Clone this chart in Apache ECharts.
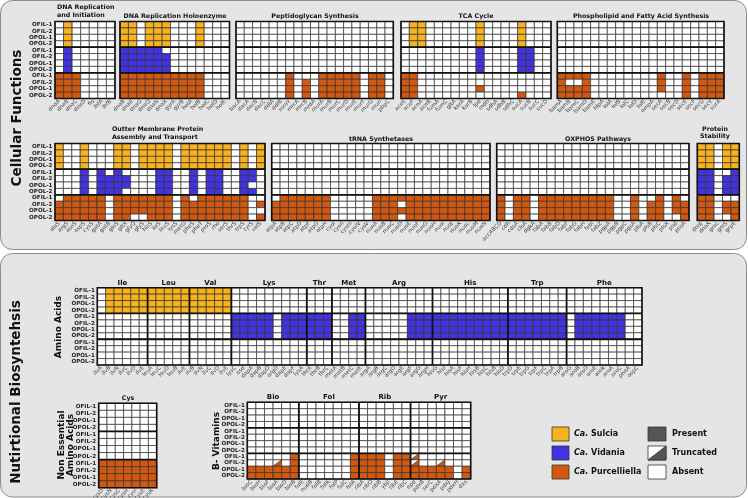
<!DOCTYPE html>
<html>
<head>
<meta charset="utf-8">
<script src="https://cdn.jsdelivr.net/npm/echarts@6.0.0/dist/echarts.min.js"></script>
<style>
html,body{margin:0;padding:0;background:#ffffff;}
#chart{width:748px;height:498px;}
</style>
</head>
<body>
<div id="chart"></div>
<script>
// ================= DATA =================
// rows: Sulcia x4, Vidania x4, Purcelliella x4 ; cell codes: 1 present, t truncated, 0 absent
const sampleRows = ['OFIL-1','OFIL-2','OPOL-1','OPOL-2','OFIL-1','OFIL-2','OPOL-1','OPOL-2','OFIL-1','OFIL-2','OPOL-1','OPOL-2'];
const organismNames = ['Sulcia','Vidania','Purcelliella'];
const statusNames = ['Present','Truncated','Absent'];

const dnaInitGenes = ['dnaA','dnaB','dnaC','dnaD','fis','ihfA','ihfB'];
const dnaInitCells = [
  '0100000','0100000','0100000','0100000',
  '0100000','0100000','0100000','0100000',
  '1110000','1110000','1110000','1110000'];

const holoGenes = ['dnaB','dnaE','dnaG','dnaQ','dnaN','dnaX','gyrA','gyrB','holA','holB','holC','holD','holE'];
const holoCells = [
  '1101110001000','1101110001000','1101110001000','1101110001000',
  '1111100000000','1111110000000','1111110000000','1111110000000',
  '1111111111000','1111111111000','1111111111000','1111111111000'];

const peptGenes = ['bacA','dacA','dacB','dacC','ddlA','ddlB','mraY','mrcA','mrcB','mrdA','murA','murB','murC','murD','murE','murF','murG','murI','pbpC'];
const peptCells = [
  '0000000000000000000','0000000000000000000','0000000000000000000','0000000000000000000',
  '0000000000000000000','0000000000000000000','0000000000000000000','0000000000000000000',
  '0000001000111110110','0000001010111110110','0000001010111110110','0000001010111110110'];

const tcaGenes = ['aceE','aceF','acnA','acnB','fumA','fumC','gltA','korA','korB','lpd','mdh','sdhA','sdhB','sdhC','sucA','sucB','sucC','sucD'];
const tcaCells = [
  '011000000100001000','011000000100001000','011000000100001000','011000000100001000',
  '000000000100001100','000000000100001100','000000000100001100','000000000100001100',
  '110000000000000000','110000000000000000','110000000100000000','110000000000001000'];

const phosGenes = ['bamA','bamB','bamC','bamD','bamE','hlpA','lolA','lolB','lolC','lolD','lolE','ompA','secA','secB','secD','secE','secF','secG','secY','surA'];
const phosCells = [
  '00000000000000000000','00000000000000000000','00000000000000000000','00000000000000000000',
  '00000000000000000000','00000000000000000000','00000000000000000000','00000000000000000000',
  '11110000000010010111','10010000000010010111','11110000000010010111','11110000000000010111'];

const outerGenes = ['alaS','argS','asnS','aspS','cysS','gatA','gatB','glnS','gltX','glyQ','glyS','hisS','ileS','leuS','lysS','metG','pheS','pheT','proS','rho','serS','thrS','trpS','tyrS','valS'];
const outerCells = [
  '1001000110111101111110101','1001000110111101111110101','1001000110111101111110101','1001000110111101111110101',
  '0001010100001100101100110','0001011110001100101100110','0001011110001100101100100','0001011100001100101100110',
  '0111110111111101011111100','1111110111111101111111101','1111110111111101111111100','1111110110011101111111101'];

const trnaGenes = ['atpA','atpB','atpC','atpD','atpF','atpG','atpH','cyoI','cyoII','cyoIII','cyoIV','cyoV','nuoA','nuoB','nuoC','nuoD','nuoE','nuoF','nuoG','nuoH','nuoI','nuoJ','nuoK','nuoL','nuoM','nuoN'];
const trnaCells = [
  '00000000000000000000000000','00000000000000000000000000','00000000000000000000000000','00000000000000000000000000',
  '00000000000000000000000000','00000000000000000000000000','00000000000000000000000000','00000000000000000000000000',
  '01111110000011111111111111','11111110000011101111111111','11111110000011111111111111','11111110000011101111111111'];

const oxGenes = ['accABCD','cdh','cdsA','clsA','dgkA','fabA','fabB','fabD','fabF','fabG','fabH','fabI','fabZ','pgpA','pgpB','pgpC','pgsA','plsA','plsB','plsC','plsX','psd','pssA'];
const oxCells = [
  '00000000000000000000000','00000000000000000000000','00000000000000000000000','00000000000000000000000',
  '00000000000000000000000','00000000000000000000000','00000000000000000000000','00000000000000000000000',
  '10110111111111001001010','10110111111111001011011','10110111111111001011011','10110111111111001011001'];

const stabGenes = ['dnaJ','dnaK','groL','groS','grpE'];
const stabCells = [
  '11011','11011','11011','11011',
  '11001','11011','11011','11011',
  '11000','11011','11011','11001'];

const aaGroupNames = ['Ile','Leu','Val','Lys','Thr','Met','Arg','His','Trp','Phe'];
const aaGroupGenes = [
  ['ilvA','ilvB','ilvN','ilvC','ilvD','ilvE'],
  ['leuA','leuC','leuD','leuB','ilvE'],
  ['ilvB','ilvN','ilvC','ilvD','ilvE'],
  ['lysC','asd','dapA','dapB','dapD','argD','dapE','dapF','lysA'],
  ['thrA','thrB','thrC'],
  ['metA','metB','metC','metE'],
  ['argA','argB','argC','argD','argE','argF','argG','argH'],
  ['hisG','hisI','hisA','hisF','hisH','hisB','hisC','hisB','hisD'],
  ['trpD','trpE','trpG','trpF','trpC','trpA','trpB'],
  ['aroG','aroB','aroD','aroE','aroK','aroA','aroC','pheA','aspC']];
const aaCells = [
  '011111|11111|11111|000000000|000|0000|00000000|000000000|0000000|000000000',
  '011111|11111|11111|000000000|000|0000|00000000|000000000|0000000|000000000',
  '011111|11111|11111|000000000|000|0000|00000000|000000000|0000000|000000000',
  '011111|11111|11111|000000000|000|0000|00000000|000000000|0000000|000000000',
  '000000|00000|00000|111110111|111|0011|00000111|111111111|1111111|011111100',
  '000000|00000|00000|111110111|111|0011|00000111|111111111|1111111|011111100',
  '000000|00000|00000|111110111|111|0011|00000111|111111111|1111111|011111100',
  '000000|00000|00000|111110111|111|0011|00000111|111111111|1111111|011111100',
  '000000|00000|00000|000000000|000|0000|00000000|000000000|0000000|000000000',
  '000000|00000|00000|000000000|000|0000|00000000|000000000|0000000|000000000',
  '000000|00000|00000|000000000|000|0000|00000000|000000000|0000000|000000000',
  '000000|00000|00000|000000000|000|0000|00000000|000000000|0000000|000000000'];

const cysGenes = ['cysD','cysN','cysC','cysH','cysI','cysE','cysK'];
const cysCells = [
  '0000000','0000000','0000000','0000000',
  '0000000','0000000','0000000','0000000',
  '1111111','1111111','1111111','1111111'];

const vitGroupNames = ['Bio','Fol','Rib','Pyr'];
const vitGroupGenes = [
  ['bioC','bioH','bioF','bioA','bioD','bioB'],
  ['folE','nudB','folB','folK','folP','folC','folA'],
  ['ribA','ribD','ribB','ybjI','ribE','ribC'],
  ['epd','pdxB','serC','pdxA','pdxJ','pdxH','dxs']];
const vitCells = [
  '000000|0000000|000000|0000000','000000|0000000|000000|0000000','000000|0000000|000000|0000000','000000|0000000|000000|0000000',
  '000000|0000000|000000|0000000','000000|0000000|000000|0000000','000000|0000000|000000|0000000','000000|0000000|000000|0000000',
  '000001|0000001|111011|t000000','000t01|0000001|111011|t00t000','111111|0000001|111011|1111101','111111|0000001|111011|1111101'];

// ================= STYLE / LAYOUT =================
const FONT = 'DejaVu Sans';
const orgColors = ['#F8B21E', '#4232E2', '#D2570F'];
const presentColor = '#555555';
const lineColor = '#333333';

const panels = [
  {genes: dnaInitGenes, cells: dnaInitCells, l: 55, t: 21.5, w: 60, h: 77, rowLabels: true},
  {genes: holoGenes, cells: holoCells, l: 120, t: 21.5, w: 109.5, h: 77},
  {genes: peptGenes, cells: peptCells, l: 236, t: 21.5, w: 157.3, h: 77},
  {genes: tcaGenes, cells: tcaCells, l: 401, t: 21.5, w: 150, h: 77},
  {genes: phosGenes, cells: phosCells, l: 557.3, t: 21.5, w: 166.7, h: 77},
  {genes: outerGenes, cells: outerCells, l: 55, t: 143.5, w: 210, h: 77, rowLabels: true},
  {genes: trnaGenes, cells: trnaCells, l: 271.7, t: 143.5, w: 218.3, h: 77},
  {genes: oxGenes, cells: oxCells, l: 496.7, t: 143.5, w: 192.3, h: 77},
  {genes: stabGenes, cells: stabCells, l: 697.3, t: 143.5, w: 42, h: 77},
  {genes: aaGroupGenes.flat(), groupNames: aaGroupNames, cells: aaCells, l: 97.3, t: 287.7, w: 544.7, h: 77.3, rowLabels: true},
  {genes: cysGenes, cells: cysCells, l: 98.7, t: 403.3, w: 58, h: 84.4, rowLabels: true},
  {genes: vitGroupGenes.flat(), groupNames: vitGroupNames, cells: vitCells, l: 247.3, t: 402.3, w: 223.4, h: 76.7, rowLabels: true}
];

const codeVal = {'0': 0, '1': 1, 't': 2};
panels.forEach(function (p, pi) {
  p.groupStarts = [];
  const segs = p.cells[0].split('|');
  let acc = 0;
  segs.forEach(function (s, i) { if (i > 0) p.groupStarts.push(acc); acc += s.length; });
  p.groupSizes = segs.map(function (s) { return s.length; });
  p.data = [];
  p.cells.forEach(function (row, r) {
    const clean = row.replace(/\|/g, '');
    if (clean.length !== p.genes.length) throw new Error('panel ' + pi + ' row ' + r + ' length ' + clean.length + ' != ' + p.genes.length);
    for (let c = 0; c < clean.length; c++) p.data.push([c, r, codeVal[clean[c]]]);
  });
});

function cellRender(params, api) {
  const c = api.value(0), r = api.value(1), v = api.value(2);
  const p = api.coord([c, r]);
  const s = api.size([1, 1]);
  const x = p[0] - s[0] / 2, y = p[1] - s[1] / 2, w = s[0], h = s[1];
  const col = orgColors[Math.floor(r / 4)];
  const children = [{
    type: 'rect', shape: {x: x, y: y, width: w, height: h},
    style: {fill: v === 1 ? col : '#ffffff', stroke: lineColor, lineWidth: 0.7}
  }];
  if (v === 2) {
    children.push({type: 'polygon', shape: {points: [[x, y + h], [x + w, y + h], [x + w, y]]},
      style: {fill: col, stroke: lineColor, lineWidth: 0.7}});
  }
  return {type: 'group', children: children};
}

function sepRenderFactory(p) {
  return function (params, api) {
    const p0 = api.coord([0, 0]);
    const s = api.size([1, 1]);
    const x0 = p0[0] - s[0] / 2, y0 = p0[1] - s[1] / 2;
    const W = s[0] * p.genes.length, H = s[1] * 12;
    const ch = [];
    [4, 8].forEach(function (r) {
      ch.push({type: 'line', shape: {x1: x0, y1: y0 + r * s[1], x2: x0 + W, y2: y0 + r * s[1]},
        style: {stroke: '#111', lineWidth: 1.8}});
    });
    p.groupStarts.forEach(function (c) {
      ch.push({type: 'line', shape: {x1: x0 + c * s[0], y1: y0, x2: x0 + c * s[0], y2: y0 + H},
        style: {stroke: '#111', lineWidth: 1.8}});
    });
    ch.push({type: 'rect', shape: {x: x0, y: y0, width: W, height: H},
      style: {fill: 'none', stroke: '#111', lineWidth: 1.6}});
    if (p.groupNames) {
      let acc = 0;
      p.groupNames.forEach(function (name, i) {
        const cx = x0 + (acc + p.groupSizes[i] / 2) * s[0];
        acc += p.groupSizes[i];
        ch.push({type: 'text', x: cx, y: y0 - 1.2,
          style: {text: name, font: 'bold 7px ' + FONT, fill: '#111',
            align: 'center', verticalAlign: 'bottom', textAlign: 'center', textVerticalAlign: 'bottom'}});
      });
    }
    return {type: 'group', children: ch};
  };
}

const grids = [], xAxes = [], yAxes = [], series = [];
panels.forEach(function (p, i) {
  grids.push({left: p.l, top: p.t, width: p.w, height: p.h, containLabel: false, outerBoundsMode: 'none', show: false});
  xAxes.push({type: 'category', gridIndex: i, data: p.genes,
    axisLine: {show: false}, axisTick: {show: false}, splitLine: {show: false},
    axisLabel: {interval: 0, rotate: 45, fontSize: 5.5, fontFamily: FONT, color: '#444', margin: 2, hideOverlap: false}});
  yAxes.push({type: 'category', gridIndex: i, data: sampleRows, inverse: true,
    axisLine: {show: false}, axisTick: {show: false}, splitLine: {show: false},
    axisLabel: {show: !!p.rowLabels, interval: 0, fontSize: 5.6, fontWeight: 'bold', fontFamily: FONT, color: '#222', margin: 2.5}});
  series.push({type: 'custom', xAxisIndex: i, yAxisIndex: i, encode: {x: 0, y: 1},
    renderItem: cellRender, data: p.data, silent: true, z: 2, animation: false});
  series.push({type: 'custom', xAxisIndex: i, yAxisIndex: i, encode: {x: 0, y: 1},
    renderItem: sepRenderFactory(p), data: [[0, 0]], silent: true, z: 3, animation: false});
});

function txt(x, y, text, size, opts) {
  opts = opts || {};
  return {type: 'text', x: x, y: y, rotation: opts.rot || 0, silent: true,
    style: {text: text, font: 'bold ' + size + 'px ' + FONT, fill: opts.fill || '#111',
      align: opts.align || 'center', verticalAlign: 'middle',
      textAlign: opts.align || 'center', textVerticalAlign: 'middle',
      lineHeight: opts.lh || size * 1.2, rich: opts.rich}};
}

const R90 = Math.PI / 2;
const graphics = [
  {type: 'rect', shape: {x: 0.5, y: 0.5, width: 746, height: 249, r: 12}, style: {fill: '#E5E5E5', stroke: '#8C8C8C', lineWidth: 1}, silent: true},
  {type: 'rect', shape: {x: 0.5, y: 253.5, width: 746, height: 243.5, r: 12}, style: {fill: '#E5E5E5', stroke: '#8C8C8C', lineWidth: 1}, silent: true},
  txt(17, 118, 'Cellular Functions', 13.5, {rot: R90}),
  txt(16, 392, 'Nutirtional Biosyntehsis', 13.5, {rot: R90}),
  txt(58.5, 327, 'Amino Acids', 9, {rot: R90}),
  txt(66, 445, 'Non Essential\nAmino Acids', 9, {rot: R90, lh: 8.8}),
  txt(217, 441, 'B- Vitamins', 9, {rot: R90}),
  txt(57, 11.5, 'DNA Replication\nand Initiation', 6.3, {align: 'left', lh: 8.4}),
  txt(175, 16, 'DNA Replication Holoenzyme', 6.3),
  txt(315, 16, 'Peptidoglycan Synthesis', 6.3),
  txt(476, 16, 'TCA Cycle', 6.3),
  txt(641, 16, 'Phospholipid and Fatty Acid Synthesis', 6.3),
  txt(112, 133.5, 'Outter Membrane Protein\nAssembly and Transport', 6.3, {align: 'left', lh: 8.4}),
  txt(381, 139, 'tRNA Synthetases', 6.3),
  txt(598, 139, 'OXPHOS Pathways', 6.3),
  txt(715, 133, 'Protein\nStability', 6.3, {lh: 7.6}),
  txt(128, 398, 'Cys', 6.3)
];
// legend: organisms
const legY = [427, 446, 465];
organismNames.forEach(function (name, i) {
  graphics.push({type: 'rect', shape: {x: 552, y: legY[i], width: 17, height: 14},
    style: {fill: orgColors[i], stroke: '#333', lineWidth: 0.8}, silent: true});
  graphics.push(txt(574, legY[i] + 7, '{i|Ca.} ' + name, 8,
    {align: 'left', rich: {i: {fontStyle: 'italic', fontWeight: 'bold', fontSize: 8, fontFamily: FONT, fill: '#111'}}}));
});
// legend: status
statusNames.forEach(function (name, i) {
  const y = legY[i];
  graphics.push({type: 'rect', shape: {x: 648, y: y, width: 18, height: 14},
    style: {fill: i === 0 ? presentColor : '#ffffff', stroke: '#333', lineWidth: 0.8}, silent: true});
  if (i === 1) {
    graphics.push({type: 'polygon', shape: {points: [[648, y + 14], [666, y + 14], [666, y]]},
      style: {fill: presentColor, stroke: '#333', lineWidth: 0.8}, silent: true});
  }
  graphics.push(txt(672, y + 7, name, 8, {align: 'left'}));
});

const chart = echarts.init(document.getElementById('chart'), null, {renderer: 'canvas', width: 748, height: 498});
chart.setOption({
  animation: false,
  backgroundColor: '#ffffff',
  graphic: {elements: graphics},
  grid: grids,
  xAxis: xAxes,
  yAxis: yAxes,
  series: series
});
</script>
</body>
</html>
